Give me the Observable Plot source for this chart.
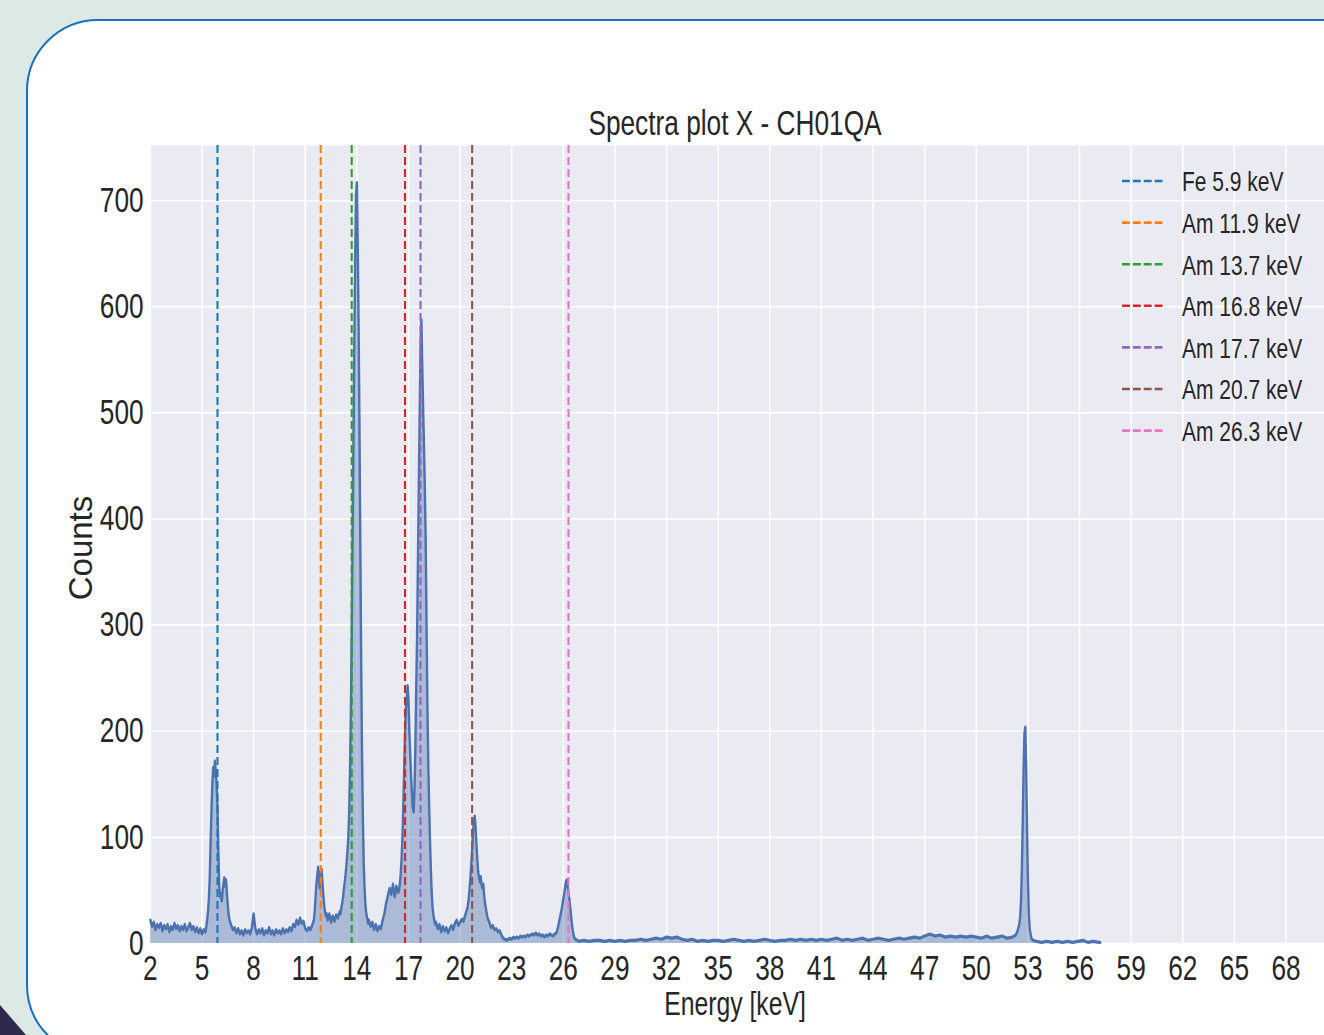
<!DOCTYPE html>
<html>
<head>
<meta charset="utf-8">
<script src="https://cdn.jsdelivr.net/npm/d3@7"></script>
<script src="https://cdn.jsdelivr.net/npm/@observablehq/plot@0.6"></script>
<style>
  html, body { margin: 0; padding: 0; width: 1324px; height: 1035px; overflow: hidden; background: #dde9e5; }
  body { position: relative; font-family: "Liberation Sans", Arial, sans-serif; color: #262626; }
  #card { position: absolute; left: 26px; top: 19px; width: 1420px; height: 1034px; border: 2px solid #1670c4; border-radius: 72px; background: #ffffff; }
  #tri { position: absolute; left: 0; top: 1005px; width: 26px; height: 30px; background: #2d2a4e; clip-path: polygon(0 0, 100% 100%, 0 100%); }
  #wrap { position: absolute; left: 0; top: 0; width: 1800px; height: 1035px; transform: scaleX(0.75); transform-origin: 0 0; }
  #wrap svg { position: absolute; left: 0; top: 0; }
  #ylab { position: absolute; left: 0; top: 0; }
</style>
</head>
<body>
<div id="card"></div>
<div id="tri"></div>
<div id="wrap"></div>
<svg id="ylab" width="1324" height="1035"></svg>
<script>
// ---------- data ----------
const title = "Spectra plot X - CH01QA";
const xLabel = "Energy [keV]";
const yLabel = "Counts";

const xTicks = [2, 5, 8, 11, 14, 17, 20, 23, 26, 29, 32, 35, 38, 41, 44, 47, 50, 53, 56, 59, 62, 65, 68];
const yTicks = [0, 100, 200, 300, 400, 500, 600, 700];

const lineNames = ["Fe 5.9 keV", "Am 11.9 keV", "Am 13.7 keV", "Am 16.8 keV", "Am 17.7 keV", "Am 20.7 keV", "Am 26.3 keV"];
const lineEnergies = [5.9, 11.9, 13.7, 16.8, 17.7, 20.7, 26.3];
const lineColors = ["#1f77b4", "#ff7f0e", "#2ca02c", "#d62728", "#9467bd", "#8c564b", "#e377c2"];

// [energy keV, counts]
const spectrum = [
  [2.0,22],[2.1,16],[2.2,20],[2.3,13],[2.4,18],[2.5,15],[2.6,19],[2.7,12],[2.8,17],[2.9,14],
  [3.0,18],[3.1,11],[3.2,16],[3.3,13],[3.4,19],[3.5,14],[3.6,17],[3.7,12],[3.8,16],[3.9,13],
  [4.0,18],[4.1,12],[4.2,15],[4.3,19],[4.4,13],[4.5,16],[4.6,11],[4.7,15],[4.8,10],[4.9,14],
  [5.0,9],[5.1,13],[5.2,11],
  [5.25,16],[5.3,22],[5.35,30],[5.4,42],[5.45,62],[5.5,95],[5.55,125],[5.6,150],[5.65,166],[5.7,158],
  [5.75,172],[5.8,163],[5.85,150],[5.9,128],[5.95,88],[6.0,54],[6.05,44],[6.1,47],[6.15,40],[6.2,50],
  [6.25,57],[6.3,62],[6.35,54],[6.4,60],[6.45,47],[6.5,36],[6.55,27],[6.6,22],[6.7,17],[6.8,13],
  [6.9,15],[7.0,10],[7.1,14],[7.2,9],[7.3,12],[7.4,8],[7.5,13],[7.6,10],[7.7,12],[7.8,9],
  [7.9,15],[8.0,28],[8.1,14],[8.2,9],[8.3,13],[8.4,10],[8.5,14],[8.6,8],[8.7,12],[8.8,10],
  [8.9,15],[9.0,9],[9.1,12],[9.2,8],[9.3,13],[9.4,10],[9.5,12],[9.6,9],[9.7,14],[9.8,10],
  [9.9,13],[10.0,11],[10.1,15],[10.2,12],[10.3,18],[10.4,16],[10.5,22],[10.6,18],[10.7,24],[10.8,19],
  [10.9,21],[11.0,14],[11.1,12],[11.2,15],[11.3,13],[11.4,17],
  [11.5,22],[11.55,30],[11.6,44],[11.65,56],[11.7,64],[11.75,72],[11.8,60],[11.85,52],[11.9,68],[11.95,70],
  [12.0,58],[12.05,46],[12.1,36],[12.15,30],[12.2,26],[12.25,28],
  [12.3,22],[12.4,28],[12.5,20],[12.6,26],[12.7,21],[12.8,27],[12.9,24],[13.0,30],
  [13.05,28],[13.1,34],[13.15,38],[13.2,44],[13.25,52],[13.3,58],[13.35,66],[13.4,75],[13.45,86],[13.5,98],
  [13.55,122],[13.6,160],[13.65,215],[13.7,290],[13.75,380],[13.8,470],[13.85,560],[13.9,640],[13.95,705],[14.0,717],
  [14.05,660],[14.1,585],[14.15,490],[14.2,380],[14.25,270],[14.3,180],[14.35,118],[14.4,75],[14.45,52],[14.5,36],
  [14.55,28],[14.6,24],[14.65,19],[14.7,22],
  [14.8,16],[14.9,20],[15.0,13],[15.1,18],[15.2,12],[15.3,16],
  [15.4,14],[15.5,22],[15.6,28],[15.7,38],[15.8,45],[15.9,52],[16.0,46],[16.1,56],[16.2,44],[16.3,54],
  [16.4,48],[16.45,50],
  [16.5,56],[16.55,66],[16.6,80],[16.65,100],[16.7,130],[16.75,165],[16.8,198],[16.85,222],[16.9,232],[16.95,243],
  [17.0,230],[17.05,200],[17.1,178],[17.15,158],[17.2,142],[17.25,128],[17.3,124],[17.35,145],[17.4,185],[17.45,240],
  [17.5,290],[17.55,360],[17.6,430],[17.65,500],[17.7,560],[17.75,588],[17.8,545],[17.85,505],[17.9,470],[17.95,430],
  [18.0,380],[18.05,300],[18.1,225],[18.15,170],[18.2,130],[18.25,98],[18.3,70],[18.35,48],[18.4,34],[18.45,27],
  [18.5,22],[18.55,18],[18.6,20],
  [18.7,14],[18.8,18],[18.9,11],[19.0,16],[19.1,12],[19.2,15],[19.3,10],[19.4,14],[19.5,17],[19.6,13],
  [19.7,19],[19.8,22],[19.9,17],
  [20.0,20],[20.1,23],[20.2,21],[20.3,27],[20.4,32],[20.45,36],[20.5,42],[20.55,52],[20.6,62],[20.65,75],
  [20.7,88],[20.75,105],[20.8,115],[20.85,120],[20.9,110],[20.95,94],[21.0,80],[21.05,68],[21.1,62],[21.15,58],
  [21.2,63],[21.25,55],[21.3,52],[21.35,56],[21.4,45],[21.45,38],[21.5,33],[21.55,28],[21.6,24],[21.7,20],
  [21.8,15],[21.9,17],[22.0,13],[22.1,14],[22.2,11],[22.3,12],[22.4,8],[22.5,5],[22.6,4],
  [22.7,3],[22.8,4],[22.9,5],[23.0,4],[23.1,6],[23.2,5],[23.3,6],[23.4,5],[23.5,7],[23.6,6],
  [23.7,7],[23.8,6],[23.9,8],[24.0,7],[24.1,8],[24.2,9],[24.3,8],[24.4,10],[24.5,8],[24.6,9],
  [24.7,7],[24.8,8],[24.9,6],[25.0,8],[25.1,7],[25.2,9],[25.3,8],[25.4,7],[25.5,9],
  [25.6,10],[25.65,13],[25.7,16],[25.75,20],[25.8,24],[25.85,28],[25.9,32],[25.95,37],[26.0,42],[26.05,47],
  [26.1,53],[26.15,58],[26.2,60],[26.25,54],[26.3,48],[26.35,42],[26.4,34],[26.45,26],[26.5,18],[26.55,12],
  [26.6,8],[26.65,5],[26.7,4],[26.8,3],
  [26.9,2],[27.2,3],[27.5,2],[27.8,3],[28.1,3],[28.4,2],[28.7,3],[29.0,2],[29.3,3],[29.6,2],
  [29.9,3],[30.2,3],[30.5,4],[30.8,3],[31.1,4],[31.4,5],[31.7,4],[32.0,6],[32.3,5],[32.6,6],
  [32.9,4],[33.2,3],[33.5,4],[33.8,2],[34.1,3],[34.4,2],[34.7,3],[35.0,3],[35.3,2],[35.6,3],
  [35.9,4],[36.2,3],[36.5,2],[36.8,3],[37.1,2],[37.4,3],[37.7,4],[38.0,3],[38.3,2],[38.6,3],
  [38.9,3],[39.2,4],[39.5,3],[39.8,4],[40.1,3],[40.4,4],[40.7,3],[41.0,4],[41.3,3],[41.6,4],
  [41.9,5],[42.2,3],[42.5,4],[42.8,3],[43.1,4],[43.4,5],[43.7,3],[44.0,4],[44.3,5],[44.6,4],
  [44.9,3],[45.2,4],[45.5,5],[45.8,4],[46.1,5],[46.4,6],[46.7,5],[47.0,7],[47.3,9],[47.6,7],
  [47.9,8],[48.2,6],[48.5,7],[48.8,6],[49.1,7],[49.4,6],[49.7,7],[50.0,6],[50.3,5],[50.6,7],
  [50.9,5],[51.2,6],[51.5,7],[51.8,5],[52.1,6],
  [52.3,8],[52.4,12],[52.5,18],[52.55,25],[52.6,40],[52.65,70],[52.7,115],[52.75,165],[52.8,198],[52.85,204],
  [52.9,165],[52.95,110],[53.0,60],[53.05,30],[53.1,14],[53.2,5],[53.3,3],
  [53.5,2],[53.8,1],[54.1,2],[54.4,1],[54.7,2],[55.0,1],[55.3,2],[55.6,1],[55.9,2],[56.2,3],
  [56.5,1],[56.8,2],[57.1,1],[57.2,1]
];

// ---------- chart ----------
const S = 0.75; // horizontal squeeze of the original figure
const FONT = "'Liberation Sans', Arial, sans-serif";
const INK = "#262626";
const BLUE = "#4c72b0";

const points = spectrum.map(([e, c]) => ({e, c}));
const refLines = lineEnergies.map((e, i) => ({e, name: lineNames[i], color: lineColors[i]}));

const chart = Plot.plot({
  width: 1790,
  height: 1035,
  marginLeft: 200,
  marginRight: 7,
  marginTop: 145,
  marginBottom: 92,
  style: {background: "transparent", fontFamily: FONT, fontSize: "35px", color: INK, overflow: "visible"},
  x: {domain: [2, 71], ticks: xTicks, tickSize: 0, tickPadding: 12, label: null, tickFormat: d => String(d)},
  y: {domain: [0, 752], ticks: yTicks, tickSize: 0, tickPadding: 9, label: null, tickFormat: d => String(d)},
  marks: [
    Plot.frame({fill: "#eaeaf2", stroke: "none"}),
    Plot.ruleX(xTicks, {stroke: "#ffffff", strokeWidth: 2}),
    Plot.ruleY(yTicks, {stroke: "#ffffff", strokeWidth: 1.6}),
    Plot.areaY(points, {x: "e", y: "c", fill: BLUE, fillOpacity: 0.4}),
    Plot.lineY(points, {x: "e", y: "c", stroke: BLUE, strokeWidth: 3.2, strokeLinejoin: "round"}),
    Plot.ruleX(refLines, {x: "e", stroke: d => d.color, strokeWidth: 2.8, strokeDasharray: "8,4"})
  ]
});
document.getElementById("wrap").appendChild(chart);

// overlay (squeezed) for title, x label and legend
const ov = d3.select("#wrap").append("svg")
  .attr("width", 1800).attr("height", 1035)
  .style("font-family", FONT).style("fill", INK);

ov.append("text").attr("x", 735 / S).attr("y", 135).attr("text-anchor", "middle")
  .attr("font-size", 35).attr("fill", INK).text(title);
ov.append("text").attr("x", 735 / S).attr("y", 1015).attr("text-anchor", "middle")
  .attr("font-size", 33).attr("fill", INK).text(xLabel);

const leg = ov.append("g");
refLines.forEach((d, i) => {
  const y = 181 + 41.6 * i;
  leg.append("line").attr("x1", 1122 / S).attr("x2", 1165 / S).attr("y1", y).attr("y2", y)
    .attr("stroke", d.color).attr("stroke-width", 2.6).attr("stroke-dasharray", "10.5,4");
  leg.append("text").attr("x", 1182 / S).attr("y", y + 10.5).attr("font-size", 28)
    .attr("fill", INK).text(d.name);
});

// y label (not squeezed)
d3.select("#ylab").append("text")
  .attr("transform", "translate(92,548) rotate(-90)")
  .attr("text-anchor", "middle").attr("font-size", 33)
  .style("font-family", FONT).attr("fill", INK).text(yLabel);
</script>
</body>
</html>
